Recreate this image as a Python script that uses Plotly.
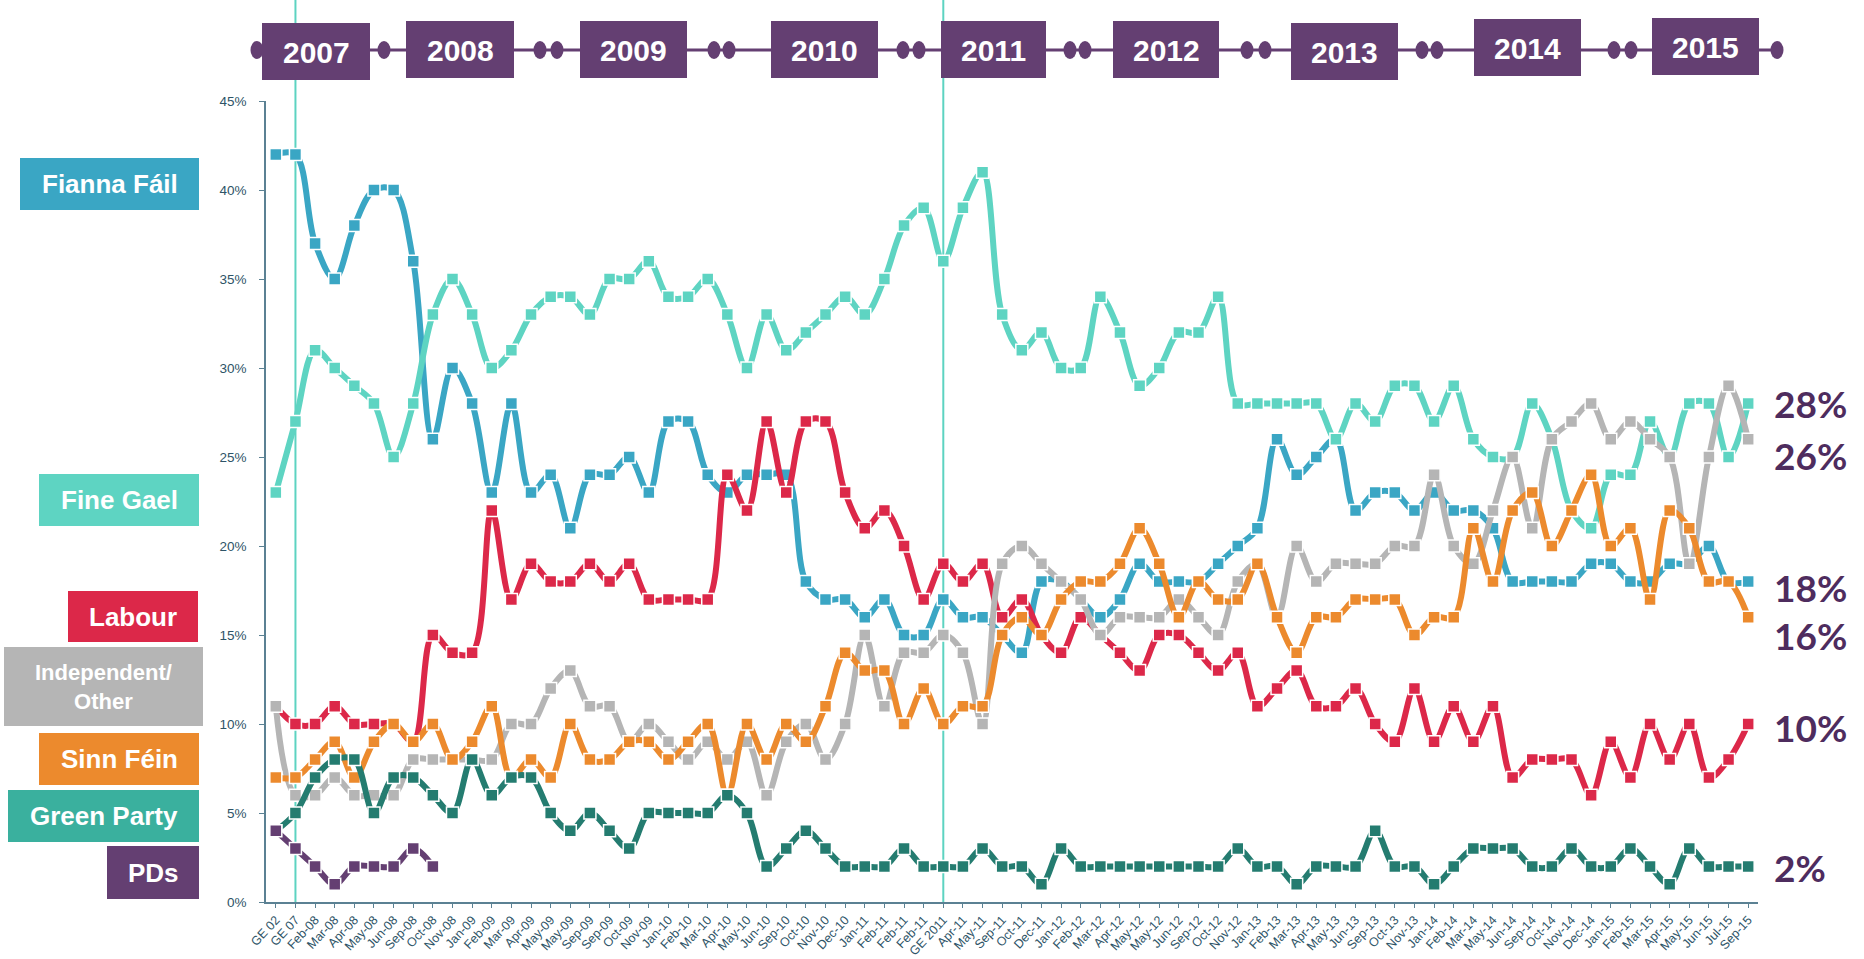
import plotly.graph_objects as go

# ---------------- data ----------------
categories = [
    "GE 02", "GE 07", "Feb-08", "Mar-08", "Apr-08", "May-08", "Jun-08", "Sep-08", "Oct-08", "Nov-08",
    "Jan-09", "Feb-09", "Mar-09", "Apr-09", "May-09", "May-09", "Sep-09", "Sep-09", "Oct-09", "Nov-09",
    "Jan-10", "Feb-10", "Mar-10", "Apr-10", "May-10", "Jun-10", "Sep-10", "Oct-10", "Nov-10", "Dec-10",
    "Jan-11", "Feb-11", "Feb-11", "Feb-11", "GE 2011", "Apr-11", "May-11", "Sep-11", "Oct-11", "Dec-11",
    "Jan-12", "Feb-12", "Mar-12", "Apr-12", "May-12", "May-12", "Jun-12", "Sep-12", "Oct-12", "Nov-12",
    "Jan-13", "Feb-13", "Mar-13", "Apr-13", "May-13", "Jun-13", "Sep-13", "Oct-13", "Nov-13", "Jan-14",
    "Feb-14", "Mar-14", "May-14", "Jun-14", "Sep-14", "Oct-14", "Nov-14", "Dec-14", "Jan-15", "Feb-15",
    "Mar-15", "Apr-15", "May-15", "Jun-15", "Jul-15", "Sep-15",
]

fianna_fail = [42, 42, 37, 35, 38, 40, 40, 36, 26, 30, 28, 23, 28, 23, 24, 21, 24, 24, 25, 23,
               27, 27, 24, 23, 24, 24, 24, 18, 17, 17, 16, 17, 15, 15, 17, 16, 16, 15, 14, 18,
               18, 17, 16, 17, 19, 18, 18, 18, 19, 20, 21, 26, 24, 25, 26, 22, 23, 23, 22, 23,
               22, 22, 21, 18, 18, 18, 18, 19, 19, 18, 18, 19, 19, 20, 18, 18]
fine_gael = [23, 27, 31, 30, 29, 28, 25, 28, 33, 35, 33, 30, 31, 33, 34, 34, 33, 35, 35, 36,
             34, 34, 35, 33, 30, 33, 31, 32, 33, 34, 33, 35, 38, 39, 36, 39, 41, 33, 31, 32,
             30, 30, 34, 32, 29, 30, 32, 32, 34, 28, 28, 28, 28, 28, 26, 28, 27, 29, 29, 27,
             29, 26, 25, 25, 28, 26, 22, 21, 24, 24, 27, 25, 28, 28, 25, 28]
labour = [11, 10, 10, 11, 10, 10, 10, 9, 15, 14, 14, 22, 17, 19, 18, 18, 19, 18, 19, 17,
          17, 17, 17, 24, 22, 27, 23, 27, 27, 23, 21, 22, 20, 17, 19, 18, 19, 16, 17, 15,
          14, 16, 15, 14, 13, 15, 15, 14, 13, 14, 11, 12, 13, 11, 11, 12, 10, 9, 12, 9,
          11, 9, 11, 7, 8, 8, 8, 6, 9, 7, 10, 8, 10, 7, 8, 10]
independent_other = [11, 6, 6, 7, 6, 6, 6, 8, 8, 8, 8, 8, 10, 10, 12, 13, 11, 11, 9, 10,
                     9, 8, 9, 8, 9, 6, 9, 10, 8, 10, 15, 11, 14, 14, 15, 14, 10, 19, 20, 19,
                     18, 17, 15, 16, 16, 16, 17, 16, 15, 18, 19, 16, 20, 18, 19, 19, 19, 20, 20, 24,
                     20, 19, 22, 25, 21, 26, 27, 28, 26, 27, 26, 25, 19, 25, 29, 26]
sinn_fein = [7, 7, 8, 9, 7, 9, 10, 9, 10, 8, 9, 11, 7, 8, 7, 10, 8, 8, 9, 9,
             8, 9, 10, 6, 10, 8, 10, 9, 11, 14, 13, 13, 10, 12, 10, 11, 11, 15, 16, 15,
             17, 18, 18, 19, 21, 19, 16, 18, 17, 17, 19, 16, 14, 16, 16, 17, 17, 17, 15, 16,
             16, 21, 18, 22, 23, 20, 22, 24, 20, 21, 17, 22, 21, 18, 18, 16]
green_party = [4, 5, 7, 8, 8, 5, 7, 7, 6, 5, 8, 6, 7, 7, 5, 4, 5, 4, 3, 5,
               5, 5, 5, 6, 5, 2, 3, 4, 3, 2, 2, 2, 3, 2, 2, 2, 3, 2, 2, 1,
               3, 2, 2, 2, 2, 2, 2, 2, 2, 3, 2, 2, 1, 2, 2, 2, 4, 2, 2, 1,
               2, 3, 3, 3, 2, 2, 3, 2, 2, 3, 2, 1, 3, 2, 2, 2]
pds = [4, 3, 2, 1, 2, 2, 2, 3, 2]

series_names = ["Fianna Fáil", "Fine Gael", "Labour", "Independent/<br>Other", "Sinn Féin", "Green Party", "PDs"]
end_labels = ["28%", "26%", "18%", "16%", "10%", "2%"]
years = ["2007", "2008", "2009", "2010", "2011", "2012", "2013", "2014", "2015"]
election_markers = ["GE 07", "GE 2011"]

# ---------------- styling ----------------
W, H = 1864, 959
L, R, T, B = 266, 106, 101, 57
PW = W - L - R
PH = H - T - B


def px(x):
    return (x - L) / PW


def py(y):
    return (H - B - y) / PH


line_colors = ["#3aa6c4", "#5ed4c2", "#dc2849", "#b5b5b5", "#ec8a2d", "#247c70", "#643f72"]
box_colors = ["#3aa6c4", "#5ed4c2", "#dc2849", "#b5b5b5", "#ec8a2d", "#3ab09e", "#643f72"]
axis_color = "#5b8193"
text_color = "#2e5467"
purple = "#643f72"
label_purple = "#4e2c5e"

x_idx = list(range(len(categories)))
all_series = [fianna_fail, fine_gael, labour, independent_other, sinn_fein, green_party, pds]

fig = go.Figure()
for name, vals, col in zip(series_names, all_series, line_colors):
    fig.add_trace(go.Scatter(
        x=x_idx[:len(vals)], y=vals, mode="lines+markers",
        name=name.replace("<br>", " "), showlegend=False,
        line=dict(color=col, width=6, shape="spline", smoothing=1.0),
        marker=dict(symbol="square", size=12, color=col, line=dict(color="white", width=1.5)),
        cliponaxis=False,
    ))

shapes = []
annotations = []

# vertical election lines
for lab in election_markers:
    xi = categories.index(lab)
    shapes.append(dict(type="line", xref="x", yref="paper", x0=xi, x1=xi, y0=0, y1=py(0),
                       line=dict(color="#5dd3c1", width=2), layer="below"))

# timeline line
shapes.append(dict(type="line", xref="paper", yref="paper", x0=px(257), x1=px(1777), y0=py(50), y1=py(50),
                   line=dict(color=purple, width=3), layer="above"))
circle_x = [257, 384, 540, 557, 714, 729, 903, 919, 1070, 1085, 1247, 1265, 1422, 1437, 1614, 1631, 1777]
for cx in circle_x:
    shapes.append(dict(type="circle", xref="paper", yref="paper",
                       x0=px(cx - 6.5), x1=px(cx + 6.5), y0=py(50 - 9), y1=py(50 + 9),
                       fillcolor=purple, line=dict(width=0), layer="above"))
year_boxes = [(262, 370, 23, 80), (406, 514, 21, 78), (580, 687, 21, 78), (771, 878, 21, 78),
              (941, 1046, 21, 78), (1113, 1219, 21, 78), (1291, 1398, 23, 80), (1474, 1581, 19, 76),
              (1652, 1759, 18, 75)]
for yr, (x0, x1, y0, y1) in zip(years, year_boxes):
    shapes.append(dict(type="rect", xref="paper", yref="paper", x0=px(x0), x1=px(x1), y0=py(y1), y1=py(y0),
                       fillcolor=purple, line=dict(width=0), layer="above"))
    annotations.append(dict(xref="paper", yref="paper", x=px((x0 + x1) / 2), y=py((y0 + y1) / 2 + 1),
                            text="<b>" + yr + "</b>", showarrow=False, xanchor="center", yanchor="middle",
                            font=dict(family="Liberation Sans, Arial, sans-serif", size=30, color="white")))

# left legend boxes
legend_boxes = [(20, 199, 158, 210), (39, 199, 474, 526), (68, 198, 591, 642), (4, 203, 647, 726),
                (39, 199, 733, 785), (8, 199, 790, 842), (107, 199, 846, 899)]
for name, col, (x0, x1, y0, y1) in zip(series_names, box_colors, legend_boxes):
    shapes.append(dict(type="rect", xref="paper", yref="paper", x0=px(x0), x1=px(x1), y0=py(y1), y1=py(y0),
                       fillcolor=col, line=dict(width=0), layer="above"))
    multi = "<br>" in name
    annotations.append(dict(xref="paper", yref="paper", x=px((x0 + x1) / 2), y=py((y0 + y1) / 2),
                            text="<b>" + name + "</b>", showarrow=False, xanchor="center", yanchor="middle",
                            font=dict(family="Liberation Sans, Arial, sans-serif", size=22 if multi else 26,
                                      color="white")))

# end labels
end_label_y = [403, 455, 587, 635, 727, 867]
for txt, yy in zip(end_labels, end_label_y):
    annotations.append(dict(xref="paper", yref="paper", x=px(1772), y=py(yy), text="<b>" + txt + "</b>",
                            showarrow=False, xanchor="left", yanchor="middle",
                            font=dict(family="Lato, Open Sans, sans-serif", size=37, color=label_purple)))

fig.update_layout(
    width=W, height=H,
    margin=dict(l=L, r=R, t=T, b=B, autoexpand=False),
    paper_bgcolor="white", plot_bgcolor="white",
    showlegend=False,
    shapes=shapes, annotations=annotations,
    xaxis=dict(range=[-0.5, len(categories) - 0.5], tickmode="array", tickvals=x_idx, ticktext=categories,
               tickangle=-47, tickfont=dict(family="Liberation Sans, Arial, sans-serif", size=12.5, color=text_color),
               showline=True, linecolor=axis_color, linewidth=1.5, ticks="outside", ticklen=4,
               tickcolor=axis_color, showgrid=False, zeroline=False, automargin=False),
    yaxis=dict(range=[0, 45], tickmode="array", tickvals=list(range(0, 46, 5)),
               ticktext=[f"{v}%" for v in range(0, 46, 5)],
               tickfont=dict(family="Liberation Sans, Arial, sans-serif", size=13.5, color=text_color),
               showline=True, linecolor=axis_color, linewidth=1.5, ticks="outside", ticklen=5,
               tickcolor=axis_color, showgrid=False, zeroline=False, automargin=False,
               ticklabelstandoff=10),
)

fig.write_html("out.html", config={"displayModeBar": False},
               post_script="document.body.style.margin='0';document.body.style.overflow='hidden';")
